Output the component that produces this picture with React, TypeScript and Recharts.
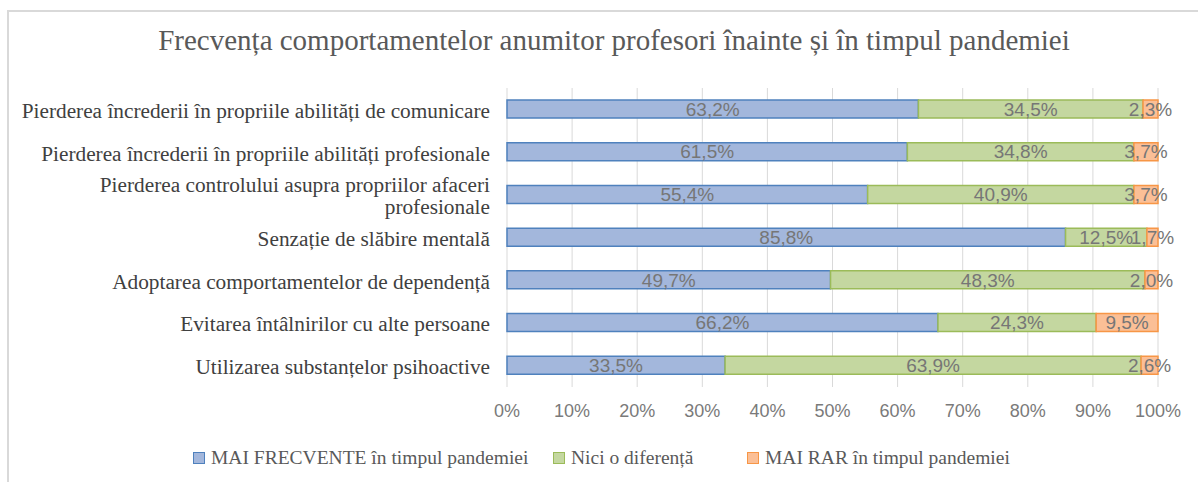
import { BarChart, Bar, XAxis, YAxis, CartesianGrid, LabelList } from "recharts";

const categories = [
  "Pierderea încrederii în propriile abilități de comunicare",
  "Pierderea încrederii în propriile abilități profesionale",
  "Pierderea controlului asupra propriilor afaceri profesionale",
  "Senzație de slăbire mentală",
  "Adoptarea comportamentelor de dependență",
  "Evitarea întâlnirilor cu alte persoane",
  "Utilizarea substanțelor psihoactive",
];

const maiFrecvente = [63.2, 61.5, 55.4, 85.8, 49.7, 66.2, 33.5];
const niciDiferenta = [34.5, 34.8, 40.9, 12.5, 48.3, 24.3, 63.9];
const maiRar = [2.3, 3.7, 3.7, 1.7, 2.0, 9.5, 2.6];

const xTicks = [0, 10, 20, 30, 40, 50, 60, 70, 80, 90, 100];

const SERIES = [
  { key: "frecvente", name: "MAI FRECVENTE în timpul pandemiei", fill: "#a3b7dc", stroke: "#4f81bd" },
  { key: "nici", name: "Nici o diferență", fill: "#c4d7a0", stroke: "#9bbb59" },
  { key: "rar", name: "MAI RAR în timpul pandemiei", fill: "#fbbf96", stroke: "#f79646" },
];

// pozitia fiecarui element din legenda (px de la stanga)
const LEGEND_LEFT = [193, 553, 747];

const data = categories.map((name, i) => ({
  name,
  frecvente: maiFrecvente[i],
  nici: niciDiferenta[i],
  rar: maiRar[i],
}));

const SERIF = "'Liberation Serif', 'Times New Roman', serif";
const SANS = "'Liberation Sans', Arial, sans-serif";

// eticheta lunga se rupe pe doua randuri, ca in Excel
function wrapLabel(s: string): string[] {
  if (s.length <= 58) return [s];
  const cut = s.lastIndexOf(" ", 48);
  return [s.slice(0, cut), s.slice(cut + 1)];
}

function CategoryTick(props: any) {
  const { x, y, payload } = props;
  const lines = wrapLabel(payload.value);
  const lh = 22;
  const start = y - ((lines.length - 1) * lh) / 2 + 1;
  return (
    <text x={x - 9} textAnchor="end" fill="#404040" fontFamily={SERIF} fontSize={21.3}>
      {lines.map((l, i) => (
        <tspan key={i} x={x - 9} y={start + i * lh} dy="0.35em">
          {l}
        </tspan>
      ))}
    </text>
  );
}

const fmt = (v: any) => `${Number(v).toFixed(1).replace(".", ",")}%`;

export default function App() {
  return (
    <div style={{ position: "absolute", left: 0, top: 0, width: 1198, height: 482, background: "#fff", overflow: "hidden" }}>
      <div
        style={{
          position: "absolute",
          left: 7,
          top: 10,
          width: 1220,
          height: 500,
          border: "2px solid #d9d9d9",
        }}
      />
      <div
        style={{
          position: "absolute",
          left: 0,
          top: 24,
          width: 1228,
          textAlign: "center",
          fontFamily: SERIF,
          fontSize: 29,
          color: "#595959",
          whiteSpace: "nowrap",
        }}
      >
        Frecvența comportamentelor anumitor profesori înainte și în timpul pandemiei
      </div>
      <div style={{ position: "absolute", left: 0, top: 0 }}>
        <BarChart
          width={1198}
          height={482}
          data={data}
          layout="vertical"
          margin={{ top: 88, right: 40, bottom: 65, left: 7 }}
        >
          <CartesianGrid horizontal={false} stroke="#d9d9d9" />
          <XAxis
            type="number"
            domain={[0, 100]}
            ticks={xTicks}
            tickFormatter={(v) => `${v}%`}
            tickLine={false}
            axisLine={false}
            tickMargin={11}
            tick={{ fill: "#7a7a7a", fontSize: 18, fontFamily: SANS }}
            height={30}
          />
          <YAxis
            type="category"
            dataKey="name"
            width={500}
            tickLine={false}
            axisLine={false}
            tick={<CategoryTick />}
            interval={0}
          />
          {SERIES.map((s) => (
            <Bar
              key={s.key}
              dataKey={s.key}
              name={s.name}
              stackId="a"
              barSize={18}
              fill={s.fill}
              stroke={s.stroke}
              strokeWidth={1.5}
              isAnimationActive={false}
            >
              <LabelList
                dataKey={s.key}
                position="center"
                formatter={fmt}
                fill="#767676"
                fontSize={19}
                fontFamily={SANS}
              />
            </Bar>
          ))}
        </BarChart>
      </div>
      {SERIES.map((s, i) => (
        <div
          key={s.key}
          style={{
            position: "absolute",
            top: 447,
            left: LEGEND_LEFT[i],
            display: "flex",
            alignItems: "center",
            whiteSpace: "nowrap",
            fontFamily: SERIF,
            fontSize: 19.5,
            color: "#595959",
          }}
        >
          <span
            style={{
              display: "inline-block",
              width: 10,
              height: 10,
              background: s.fill,
              border: `1.5px solid ${s.stroke}`,
              marginRight: 6,
            }}
          />
          {s.name}
        </div>
      ))}
    </div>
  );
}
